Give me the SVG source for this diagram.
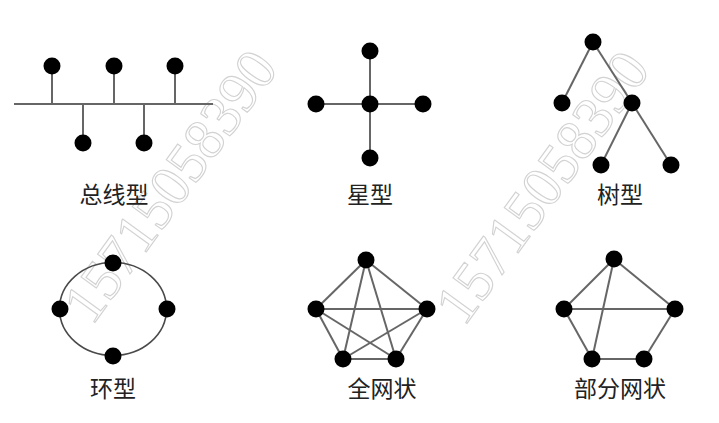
<svg xmlns="http://www.w3.org/2000/svg" width="719" height="423" viewBox="0 0 719 423">
<style>
.wm{font-family:"Liberation Serif",serif;font-size:58px;fill:none;stroke:#d2d2d2;stroke-width:1.1}
.ln{stroke:#666;stroke-width:2;fill:none}
.ring{stroke:#4a4a4a;stroke-width:1.6;fill:none}
.nd{fill:#000}
.lb{font-family:"Noto Sans CJK SC","Noto Sans",sans-serif;font-size:23px;fill:#222;text-anchor:middle}
</style>
<rect width="719" height="423" fill="#fff"/>
<g id="watermarks">
<text class="wm" x="170" y="186" text-anchor="middle" dominant-baseline="central" transform="rotate(-54 170 186)">15715058390</text>
<text class="wm" x="542" y="187" text-anchor="middle" dominant-baseline="central" transform="rotate(-54 542 187)">15715058390</text>
</g>
<g id="connectors">
<line class="ln" x1="14" y1="104" x2="213" y2="104"/>
<line class="ln" x1="52" y1="66" x2="52" y2="104"/>
<line class="ln" x1="114" y1="66" x2="114" y2="104"/>
<line class="ln" x1="175" y1="66" x2="175" y2="104"/>
<line class="ln" x1="83" y1="104" x2="83" y2="143"/>
<line class="ln" x1="144" y1="104" x2="144" y2="143"/>
<line class="ln" x1="370" y1="51" x2="370" y2="158"/>
<line class="ln" x1="316" y1="104" x2="423" y2="104"/>
<line class="ln" x1="593" y1="42" x2="562" y2="103"/>
<line class="ln" x1="593" y1="42" x2="632" y2="103"/>
<line class="ln" x1="632" y1="103" x2="601" y2="165"/>
<line class="ln" x1="632" y1="103" x2="671" y2="165"/>
<ellipse class="ring" cx="113" cy="309" rx="53.5" ry="46.5"/>
<line class="ln" x1="366" y1="260" x2="316" y2="309"/>
<line class="ln" x1="366" y1="260" x2="427" y2="309"/>
<line class="ln" x1="366" y1="260" x2="343" y2="359"/>
<line class="ln" x1="366" y1="260" x2="396" y2="359"/>
<line class="ln" x1="316" y1="309" x2="427" y2="309"/>
<line class="ln" x1="316" y1="309" x2="343" y2="359"/>
<line class="ln" x1="316" y1="309" x2="396" y2="359"/>
<line class="ln" x1="427" y1="309" x2="343" y2="359"/>
<line class="ln" x1="427" y1="309" x2="396" y2="359"/>
<line class="ln" x1="343" y1="359" x2="396" y2="359"/>
<line class="ln" x1="614" y1="259" x2="564" y2="309"/>
<line class="ln" x1="614" y1="259" x2="675" y2="309"/>
<line class="ln" x1="614" y1="259" x2="592" y2="359"/>
<line class="ln" x1="564" y1="309" x2="675" y2="309"/>
<line class="ln" x1="564" y1="309" x2="592" y2="359"/>
<line class="ln" x1="592" y1="359" x2="644" y2="359"/>
<line class="ln" x1="644" y1="359" x2="675" y2="309"/>
</g>
<g id="bus">
<circle class="nd" cx="52" cy="66" r="8.5"/>
<circle class="nd" cx="114" cy="66" r="8.5"/>
<circle class="nd" cx="175" cy="66" r="8.5"/>
<circle class="nd" cx="83" cy="143" r="8.5"/>
<circle class="nd" cx="144" cy="143" r="8.5"/>
<text class="lb" x="114" y="203">总线型</text>
</g>
<g id="star">
<circle class="nd" cx="370" cy="51" r="8.5"/>
<circle class="nd" cx="316" cy="104" r="8.5"/>
<circle class="nd" cx="370" cy="104" r="8.5"/>
<circle class="nd" cx="423" cy="104" r="8.5"/>
<circle class="nd" cx="370" cy="158" r="8.5"/>
<text class="lb" x="370" y="203">星型</text>
</g>
<g id="tree">
<circle class="nd" cx="593" cy="42" r="8.5"/>
<circle class="nd" cx="562" cy="103" r="8.5"/>
<circle class="nd" cx="632" cy="103" r="8.5"/>
<circle class="nd" cx="601" cy="165" r="8.5"/>
<circle class="nd" cx="671" cy="165" r="8.5"/>
<text class="lb" x="620" y="203">树型</text>
</g>
<g id="ring">
<circle class="nd" cx="113" cy="263" r="8.5"/>
<circle class="nd" cx="60" cy="309" r="8.5"/>
<circle class="nd" cx="167" cy="309" r="8.5"/>
<circle class="nd" cx="113" cy="356" r="8.5"/>
<text class="lb" x="113" y="397">环型</text>
</g>
<g id="fullmesh">
<circle class="nd" cx="366" cy="260" r="8.5"/>
<circle class="nd" cx="316" cy="309" r="8.5"/>
<circle class="nd" cx="427" cy="309" r="8.5"/>
<circle class="nd" cx="343" cy="359" r="8.5"/>
<circle class="nd" cx="396" cy="359" r="8.5"/>
<text class="lb" x="382" y="397">全网状</text>
</g>
<g id="partialmesh">
<circle class="nd" cx="614" cy="259" r="8.5"/>
<circle class="nd" cx="564" cy="309" r="8.5"/>
<circle class="nd" cx="675" cy="309" r="8.5"/>
<circle class="nd" cx="592" cy="359" r="8.5"/>
<circle class="nd" cx="644" cy="359" r="8.5"/>
<text class="lb" x="620" y="397">部分网状</text>
</g>
</svg>
